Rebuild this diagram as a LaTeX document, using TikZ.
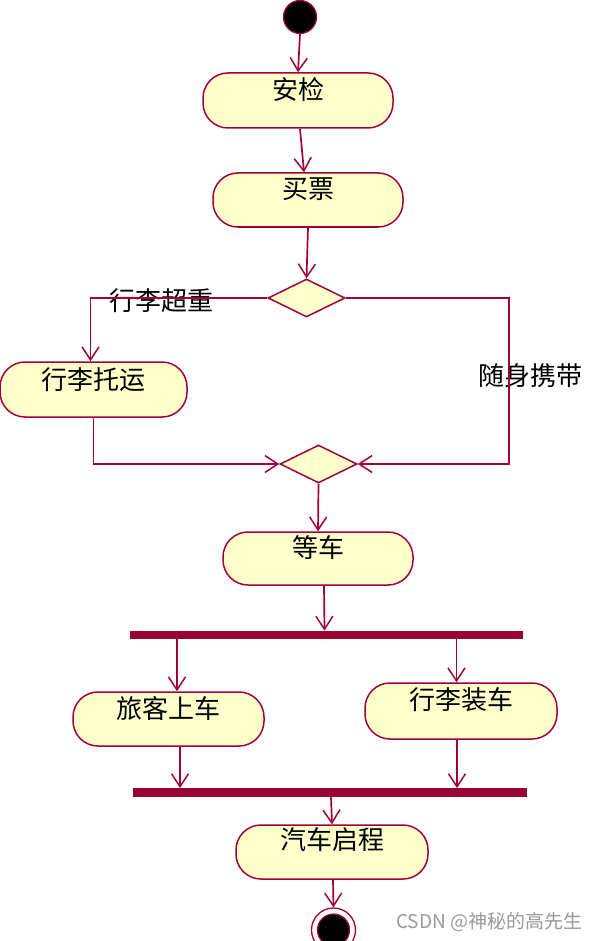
\documentclass[tikz,border=0pt]{standalone}
\usepackage{fontspec}
\newfontfamily\cjk{Noto Sans CJK SC}
\usetikzlibrary{arrows.meta,shapes.geometric,calc}
\definecolor{umlline}{RGB}{160,0,60}
\definecolor{umlfill}{RGB}{255,255,204}
\definecolor{umlbar}{RGB}{153,0,51}
\begin{document}
\begin{tikzpicture}[x=1pt,y=-1pt,
  act/.style={draw=umlline, fill=umlfill, line width=1.5pt, rounded corners=25pt,
    minimum width=190pt, minimum height=55pt, inner sep=0pt},
  lbl/.style={font=\cjk\fontsize{26}{26}\selectfont, inner sep=0pt},
  dec/.style={diamond, draw=umlline, fill=umlfill, line width=1.5pt,
    minimum width=78pt, minimum height=38pt, inner sep=0pt},
  bar/.style={fill=umlbar, draw=none, inner sep=0pt, minimum height=8.5pt},
  conn/.style={draw=umlline, line width=1.7pt},
  flow/.style={conn, -{Straight Barb[length=13pt,width=17pt,line width=1.5pt]}}
]
\useasboundingbox (0,0) rectangle (602,941);

% nodes
\node[circle, fill=black, draw=umlline, line width=1.2pt, minimum size=33pt, inner sep=0pt] (start) at (300,17) {};
\node[act] (anjian) at (298,100.5) {};
\node[lbl] (anjianT) at ($(anjian.center)+(0,-11)$) {安检};
\node[act, minimum height=54pt] (maipiao) at (308,200) {};
\node[lbl] (maipiaoT) at ($(maipiao.center)+(0,-11)$) {买票};
\node[dec, minimum width=77pt] (dec1) at (306.5,298) {};
\node[act, minimum width=187pt] (tuoyun) at (93.5,389.5) {};
\node[lbl] (tuoyunT) at ($(tuoyun.center)+(0,-10)$) {行李托运};
\node[dec, minimum width=77pt] (dec2) at (318.5,464) {};
\node[act, minimum height=53pt] (dengche) at (318,558.5) {};
\node[lbl] (dengcheT) at ($(dengche.center)+(0,-11)$) {等车};
\node[bar, minimum width=393pt] (fork) at (326.5,635) {};
\node[act, minimum width=191pt, minimum height=54pt] (lvke) at (168.5,719) {};
\node[lbl] (lvkeT) at ($(lvke.center)+(0,-11)$) {旅客上车};
\node[act, minimum width=192pt, minimum height=56pt] (zhuangche) at (461,711) {};
\node[lbl] (zhuangcheT) at ($(zhuangche.center)+(0,-11)$) {行李装车};
\node[bar, minimum width=394pt] (join) at (330,792.5) {};
\node[act, minimum width=192pt, minimum height=54pt] (qiche) at (332,852) {};
\node[lbl] (qicheT) at ($(qiche.center)+(0,-12)$) {汽车启程};
\node[circle, draw=umlline, line width=1.3pt, fill=white, minimum size=44pt, inner sep=0pt] (endo) at (333.5,930) {};
\node[circle, fill=black, draw=umlline, line width=1.2pt, minimum size=32pt, inner sep=0pt] (endi) at (endo.center) {};

% guard labels
\node[lbl] (chaozhong) at (161,301) {行李超重};
\node[lbl] (suishen) at (530,376) {随身携带};

% helper coordinates
\coordinate (rc) at (509,298);
\coordinate (xl) at (177,0);
\coordinate (xr) at (456.5,0);
\coordinate (xl2) at (180,0);
\coordinate (xr2) at (457,0);

% connectors
\draw[flow] (start.south) -- (anjian.north);
\draw[flow] ([xshift=2pt]anjian.south) -- ([xshift=-4pt]maipiao.north);
\draw[flow] (maipiao.south) -- (dec1.north);
\draw[flow] (dec1.west) -| ([xshift=-3pt]tuoyun.north);
\draw[flow] (dec1.east) -- (rc) |- (dec2.east);
\draw[flow] (tuoyun.south) |- (dec2.west);
\draw[flow] (dec2.south) -- (dengche.north);
\draw[flow] ([xshift=6pt]dengche.south) -- ([xshift=-2pt]fork.north);
\draw[flow] (fork.south -| xl) -- (lvke.north -| xl);
\draw[flow] (fork.south -| xr) -- (zhuangche.north -| xr);
\draw[flow] (lvke.south -| xl2) -- (join.north -| xl2);
\draw[flow] (zhuangche.south -| xr2) -- (join.north -| xr2);
\draw[flow] ([xshift=1pt]join.south) -- (qiche.north);
\draw[flow] ([xshift=1pt]qiche.south) -- (endo.north);

% watermark
\node[anchor=west, font=\cjk\fontsize{19}{19}\selectfont, text=black!40, inner sep=0pt] (wm) at (396,922) {CSDN @神秘的高先生};
\end{tikzpicture}
\end{document}
